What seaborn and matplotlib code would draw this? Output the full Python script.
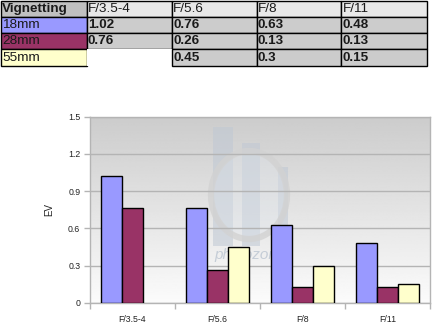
import numpy as np
import pandas as pd
import matplotlib
matplotlib.use("Agg")
import matplotlib.pyplot as plt
from matplotlib.patches import Rectangle, Ellipse
from matplotlib.ticker import FixedLocator, FuncFormatter
import seaborn as sns

# Vignetting in EV per focal length and aperture
apertures = ["F/3.5-4", "F/5.6", "F/8", "F/11"]
focal_lengths = ["18mm", "28mm", "55mm"]
ev_18mm = [1.02, 0.76, 0.63, 0.48]
ev_28mm = [0.76, 0.26, 0.13, 0.13]
ev_55mm = [np.nan, 0.45, 0.30, 0.15]
series_colors = ["#9999ff", "#993366", "#ffffcc"]
y_ticks = [0, 0.3, 0.6, 0.9, 1.2, 1.5]

series = [ev_18mm, ev_28mm, ev_55mm]
df = pd.DataFrame({
    "aperture": apertures * len(focal_lengths),
    "focal": [f for f in focal_lengths for _ in apertures],
    "ev": [v for s in series for v in s],
})

sns.set_theme(style="white")
plt.rcParams["font.family"] = ["Liberation Sans", "DejaVu Sans"]

W, H = 438, 329
fig = plt.figure(figsize=(W / 100, H / 100), dpi=100)
fig.patch.set_facecolor("white")

# ---------------- summary table ----------------
tab = fig.add_axes([0, 0, 1, 1])
tab.set_xlim(0, W)
tab.set_ylim(H, 0)
tab.axis("off")

col_x = [0.5, 86.5, 171.5, 256.5, 341, 426.5]
row_y = [0.5, 16.5, 32.5, 49, 65.5]
text_col = "#1a1a1a"


def cell(c, r, face, text, bold=False, border=True):
    x0, x1 = col_x[c], col_x[c + 1]
    y0, y1 = row_y[r], row_y[r + 1]
    tab.add_patch(Rectangle((x0, y0), x1 - x0, y1 - y0, facecolor=face,
                            edgecolor="black" if border else "none",
                            linewidth=1.0))
    if text:
        tab.text(x0 + 1.5, (y0 + y1) / 2 + 0.7, text, ha="left", va="center",
                 fontsize=9.7, fontweight="bold" if bold else "normal",
                 color=text_col)


cell(0, 0, "#c0c0c0", "Vignetting", bold=True)
for j, a in enumerate(apertures):
    cell(j + 1, 0, "#e8e8e8", a)
for i, (f, vals) in enumerate(zip(focal_lengths, series)):
    cell(0, i + 1, series_colors[i], f)
    for j, v in enumerate(vals):
        if np.isnan(v):
            cell(j + 1, i + 1, "white", "", border=False)
        else:
            cell(j + 1, i + 1, "#cccccc", f"{v:g}", bold=True)

# ---------------- bar chart ----------------
left, right, top, bottom = 90, 430, 116.7, 302.7
rect = [left / W, 1 - bottom / H, (right - left) / W, (bottom - top) / H]

# background panel: gray gradient plus faint photozone logo (pixel units)
bg = fig.add_axes(rect)
bg.set_xlim(left, right)
bg.set_ylim(bottom, top)
bg.axis("off")
grad = np.linspace(0.80, 0.985, 256).reshape(-1, 1)
bg.imshow(grad, cmap="gray", vmin=0, vmax=1, aspect="auto",
          extent=(left, right, bottom, top), origin="upper", zorder=0)
logo = "#bfc8d4"
for x0, x1, y0 in [(213, 233, 127), (241.5, 260, 143), (278, 288, 167)]:
    bg.add_patch(Rectangle((x0, y0), x1 - x0, 246 - y0, facecolor=logo,
                           alpha=0.55, edgecolor="none", zorder=1))
bg.add_patch(Ellipse((249, 195), 72, 84, facecolor="#dfe5ec", alpha=0.35,
                     edgecolor="none", zorder=2))
bg.add_patch(Ellipse((249, 195), 76, 88, facecolor="none", edgecolor="#d2d2d2",
                     linewidth=4.5, alpha=0.8, zorder=2))
bg.text(250, 255, "photozone", ha="center", va="center", fontsize=11,
        style="italic", color="#b4bfcd", alpha=0.7, zorder=2)

ax = fig.add_axes(rect)
ax.patch.set_alpha(0)

sns.barplot(data=df, x="aperture", y="ev", hue="focal", order=apertures,
            hue_order=focal_lengths, palette=series_colors, width=0.75,
            edgecolor="black", linewidth=1.0, saturation=1, legend=False,
            ax=ax, zorder=3)

ax.set_xlim(-0.5, len(apertures) - 0.5)
ax.set_ylim(0, 1.5)

ax.yaxis.grid(True, color="#b4b4b4", linewidth=1.0)
ax.set_axisbelow(True)

for s in ax.spines.values():
    s.set_visible(True)
    s.set_color("#b4b4b4")
    s.set_linewidth(1.0)

ax.set_yticks(y_ticks)
ax.yaxis.set_major_formatter(FuncFormatter(lambda v, p: f"{v:g}"))
ax.tick_params(axis="y", which="major", left=True, length=4, width=1,
               color="#b4b4b4", labelsize=6.3, pad=3, labelcolor="#222222")
ax.tick_params(axis="x", which="major", bottom=False, length=0, labelsize=6.3,
               pad=9, labelcolor="#222222")
ax.xaxis.set_minor_locator(FixedLocator(np.arange(-0.5, len(apertures), 1.0)))
ax.tick_params(axis="x", which="minor", bottom=True, length=4, width=1,
               color="#b4b4b4")
ax.set_xlabel("")
ax.set_ylabel("EV", fontsize=7, color="#222222", labelpad=10)

fig.savefig("out.png", dpi=100, facecolor="white")
